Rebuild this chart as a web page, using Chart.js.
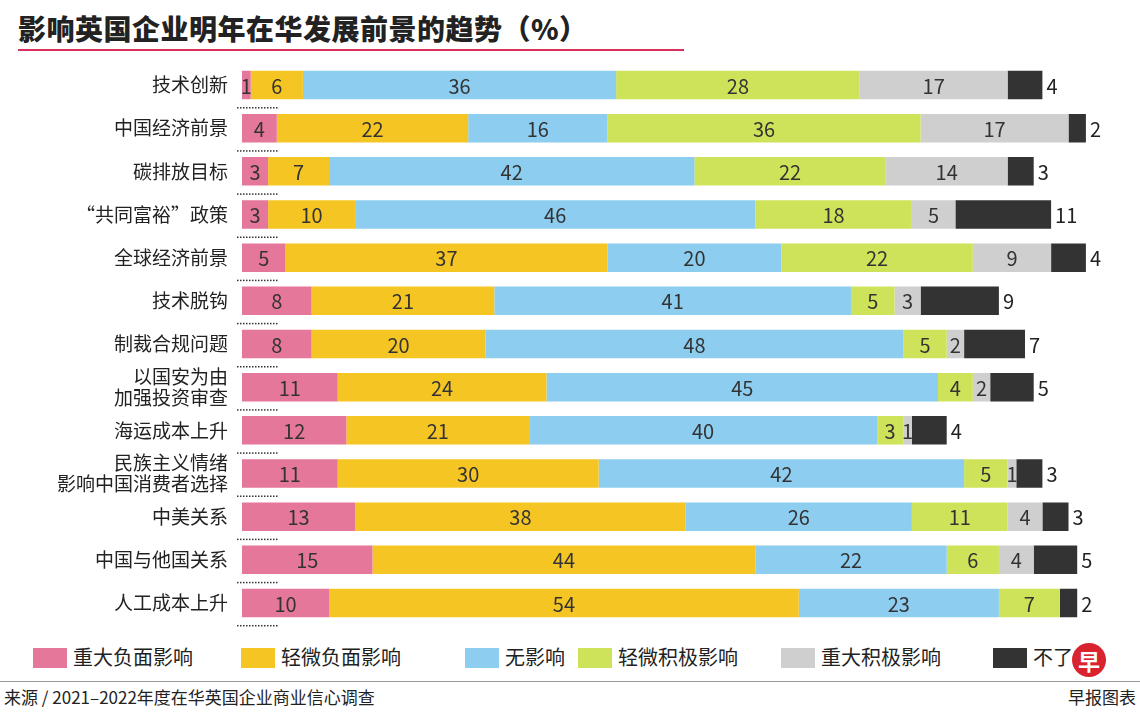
<!DOCTYPE html>
<html><head><meta charset="utf-8">
<script src="https://cdn.jsdelivr.net/npm/chart.js@4"></script>
<style>
body{margin:0;width:1140px;height:713px;background:#fff;font-family:"Noto Sans CJK SC",sans-serif;position:relative;overflow:hidden;color:#222}
#title{position:absolute;left:18px;top:8px;font-size:28px;font-weight:900;letter-spacing:0.5px}
#uline{position:absolute;left:18px;top:49px;width:666px;height:2px;background:#d9305c}
#wrap{position:absolute;left:0;top:47px;width:1140px;height:594px}
#legend{position:absolute;left:33px;top:642px;font-size:20px}
#legend span{position:absolute;white-space:nowrap}
#legend i{display:inline-block;width:34px;height:20px;vertical-align:-3px;margin-right:6px}
#foot{position:absolute;left:0;top:681px;width:1140px;border-top:1px solid #999;font-size:17px}
#logo{position:absolute;left:1072px;top:643px;width:34px;height:34px;border-radius:50%;background:#d9232e;color:#fff;font-weight:bold;text-align:center;line-height:34px;font-size:22px}
</style></head><body>
<div id="title">影响英国企业明年在华发展前景的趋势（%）</div>
<div id="uline"></div>
<div id="wrap"><canvas id="c"></canvas></div>
<div id="legend"></div>
<div id="logo">早</div>
<div id="foot"><span style="position:absolute;left:4px;top:2px">来源 / 2021–2022年度在华英国企业商业信心调查</span><span style="position:absolute;right:4px;top:2px">早报图表</span></div>
<script>
const categories = ['技术创新','中国经济前景','碳排放目标','“共同富裕”政策','全球经济前景','技术脱钩','制裁合规问题',['以国安为由','加强投资审查'],'海运成本上升',['民族主义情绪','影响中国消费者选择'],'中美关系','中国与他国关系','人工成本上升'];
const seriesNames = ['重大负面影响','轻微负面影响','无影响','轻微积极影响','重大积极影响','不了解'];
const majorNeg = [1,4,3,3,5,8,8,11,12,11,13,15,10];
const minorNeg = [6,22,7,10,37,21,20,24,21,30,38,44,54];
const noImpact = [36,16,42,46,20,41,48,45,40,42,26,22,23];
const minorPos = [28,36,22,18,22,5,5,4,3,5,11,6,7];
const majorPos = [17,17,14,5,9,3,2,2,1,1,4,4,0];
const unknown = [4,2,3,11,4,9,7,5,4,3,3,5,2];
const colors = ['#e5779a','#f5c623','#8dcdef','#cfe35a','#cfcfcf','#333333'];
const all = [majorNeg,minorNeg,noImpact,minorPos,majorPos,unknown];

const leg = document.getElementById('legend');
const legX = [0,208,432,545,748,960];
seriesNames.forEach((n,i)=>{ const s=document.createElement('span'); s.style.left=legX[i]+'px'; s.innerHTML='<i style="background:'+colors[i]+'"></i>'+(i==5?'不了':n); leg.appendChild(s); });

const labelPlugin = {
  id:'vals',
  afterDatasetsDraw(chart){
    const ctx = chart.ctx; ctx.save();
    ctx.font = '20px "Noto Sans CJK SC", sans-serif'; ctx.textBaseline='middle';
    chart.data.datasets.forEach((ds,di)=>{
      const meta = chart.getDatasetMeta(di);
      meta.data.forEach((bar,i)=>{
        const v = ds.data[i]; if(!v) return;
        if(di===5){ ctx.fillStyle='#222'; ctx.textAlign='left'; ctx.fillText(v, bar.x+4, bar.y+1); }
        else { ctx.fillStyle='#333'; ctx.textAlign='center'; ctx.fillText(v, (bar.x+bar.base)/2, bar.y+1); }
      });
    });
    const ys = chart.scales.y;
    ctx.fillStyle='#333';
    categories.forEach((c,i)=>{ const y = ys.getPixelForValue(i)+22; for(let x=237;x<277;x+=3) ctx.fillRect(x,y,1.5,1.5); });
    ctx.restore();
  }
};

new Chart(document.getElementById('c'), {
  type:'bar',
  data:{ labels:categories, datasets: all.map((d,i)=>({label:seriesNames[i], data:d, backgroundColor:colors[i], barPercentage:0.66, categoryPercentage:1})) },
  options:{
    indexAxis:'y', responsive:true, maintainAspectRatio:false, animation:false,
    layout:{padding:{right:28,top:0,bottom:0}},
    plugins:{legend:{display:false}, tooltip:{enabled:false}},
    scales:{
      x:{stacked:true, min:0, max:100, display:false},
      y:{stacked:true, grid:{display:false}, border:{display:false},
         ticks:{color:'#222', autoSkip:false, font:{size:19, family:'"Noto Sans CJK SC", sans-serif', lineHeight:1.1}, padding:6},
         afterFit(s){ s.width = 242; }}
    }
  },
  plugins:[labelPlugin]
});
</script>
</body></html>
